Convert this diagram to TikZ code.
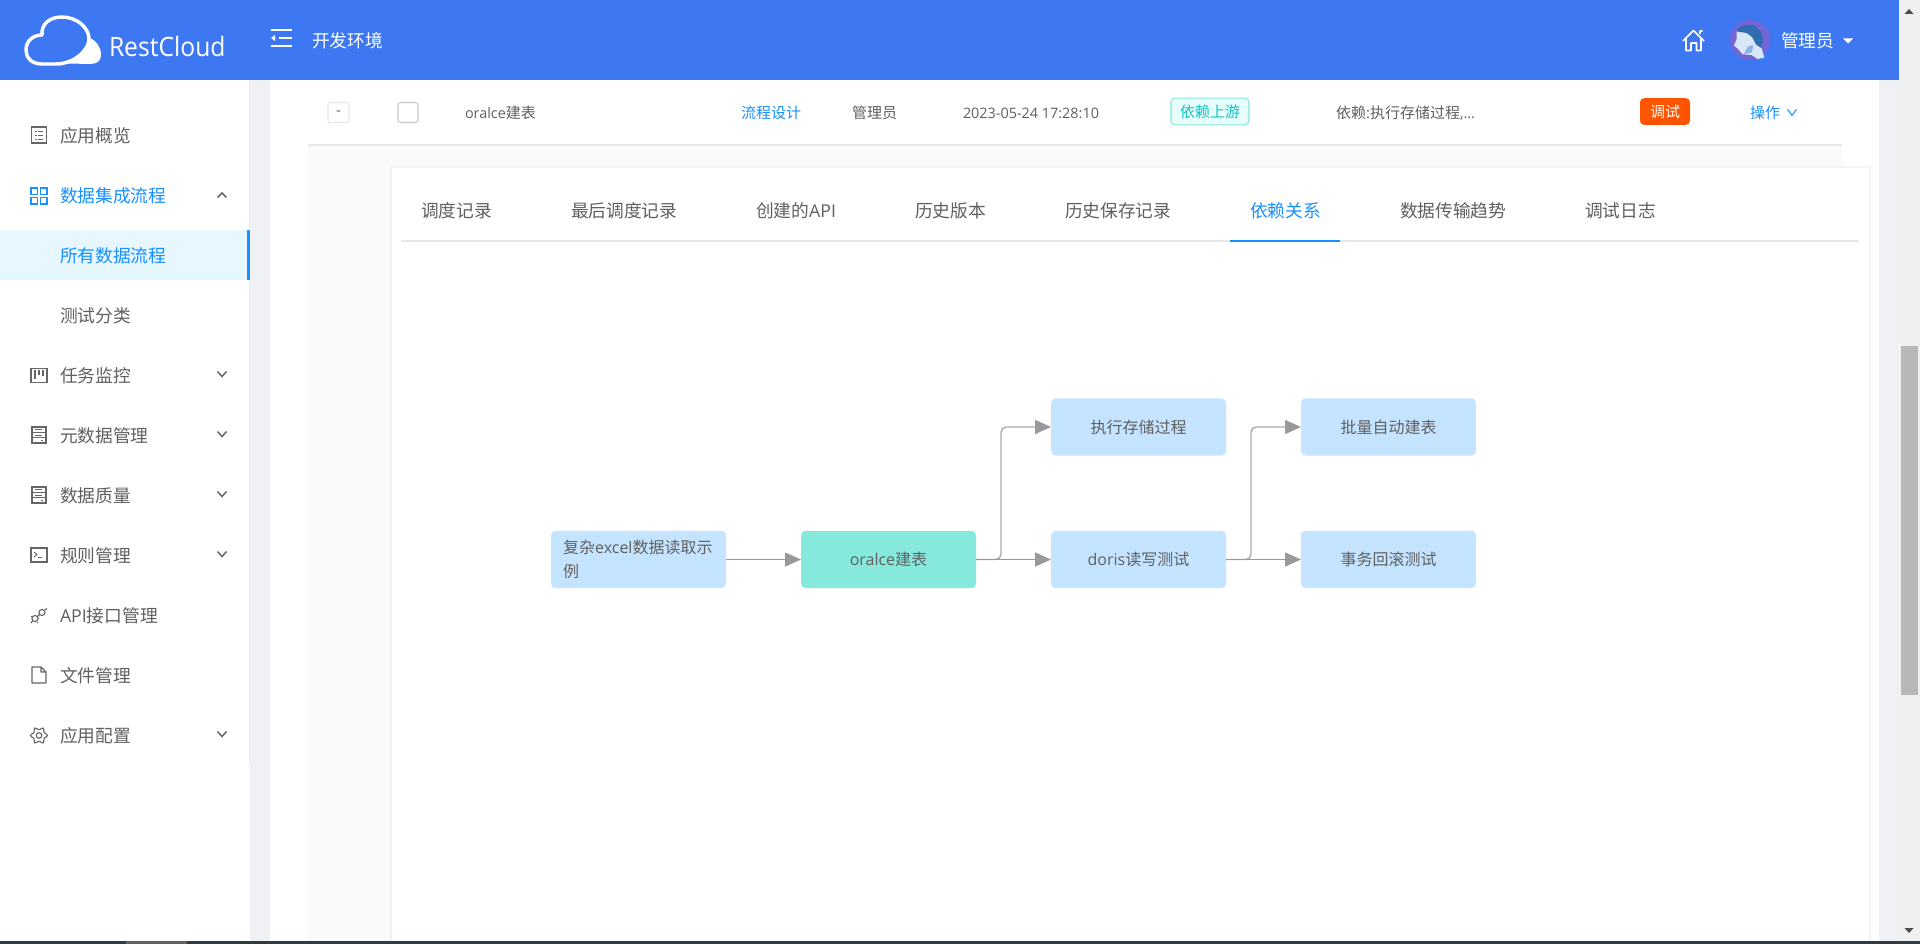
\documentclass[tikz,border=0pt]{standalone}
\usepackage{fontspec}
\setmainfont{Noto Sans CJK SC}
\newfontfamily\latf{Open Sans}
\usetikzlibrary{arrows.meta}
\newcommand{\lat}[1]{{\latf #1}}
\newcommand{\latsm}[1]{{\latf\fontsize{10.8}{14}\selectfont #1}}
\definecolor{hdr}{HTML}{3D78F2}
\definecolor{pagegray}{HTML}{EFF1F5}
\definecolor{panelgray}{HTML}{FAFAFA}
\definecolor{rule}{HTML}{E8E8E8}
\definecolor{txt}{HTML}{606060}
\definecolor{ablue}{HTML}{1890FF}
\definecolor{activebg}{HTML}{E6F7FF}
\definecolor{nodeblue}{HTML}{C5E4FF}
\definecolor{nodeteal}{HTML}{87E9DD}
\definecolor{edgegray}{HTML}{999999}
\definecolor{bendgray}{HTML}{ABABAB}
\definecolor{icon}{HTML}{666666}
\definecolor{stripdark}{HTML}{333B42}
\definecolor{striplight}{HTML}{5F6266}
\definecolor{tagtext}{HTML}{13C2C2}
\definecolor{tagfill}{HTML}{E6FFFB}
\definecolor{btnorange}{HTML}{FF5500}
\definecolor{avpurple}{HTML}{7466D6}
\definecolor{avhair}{HTML}{2F6CB0}
\definecolor{avface}{HTML}{D8E6F8}
\definecolor{avshade}{HTML}{8DB2E6}
\tikzset{
  every node/.style={inner sep=0pt,outer sep=0pt},
  side/.style={anchor=west,text=txt,font=\fontsize{13.3}{16}\selectfont},
  sideblue/.style={side,text=ablue},
  tabt/.style={anchor=west,text=txt,font=\fontsize{13.3}{16}\selectfont},
  cell/.style={anchor=west,text=txt,font=\fontsize{11.25}{14}\selectfont},
  hdrt/.style={anchor=west,text=white,font=\fontsize{13.3}{16}\selectfont},
  flowbox/.style={rectangle,rounded corners=3.5pt,fill=nodeblue,text=txt,minimum width=131.25pt,minimum height=43pt,font=\fontsize{12}{18}\selectfont},
  flowteal/.style={flowbox,fill=nodeteal},
  straight/.style={edgegray,line width=1.1pt,-{Triangle[length=12pt,width=10.5pt,fill=edgegray]}},
  bent/.style={bendgray,line width=1.1pt,rounded corners=4pt,-{Triangle[length=12pt,width=10.5pt,fill=edgegray,color=edgegray]}},
  ico/.style={icon,line width=.85pt},
  chev/.style={icon,line width=1.1pt},
  pics/down/.style={code={\draw[chev] (-4.5,-2.5)--(0,2.5)--(4.5,-2.5);}},
  pics/listicon/.style={code={\draw[ico] (-7.5,-8) rectangle (7.5,8);
     \foreach \y in {-4,0,4}{\draw[icon,line width=.7pt] (-4,\y)--(-2.5,\y) (-1,\y)--(4,\y);}}},
  pics/gridicon/.style={code={\foreach \x/\y in {-8/-8,1.5/-8,-8/1.5,1.5/1.5}{\draw[ablue,line width=1.1pt] (\x,\y) rectangle ++(6.5,6.5);}}},
  pics/boardicon/.style={code={\draw[ico] (-8,-7) rectangle (8,7);
     \draw[icon,line width=1.1pt] (-4,-5)--(-4,4) (0,-5)--(0,0) (4,-5)--(4,1);}},
  pics/servericon/.style={code={\draw[ico] (-7,-8) rectangle (7,8);
     \draw[icon,line width=.7pt] (-7,-3)--(7,-3) (-7,2.5)--(7,2.5) (-4,-5.5)--(3,-5.5) (-4,0)--(3,0) (2,5.5)--(4,5.5);}},
  pics/termicon/.style={code={\draw[ico] (-8,-7) rectangle (8,7);
     \draw[icon,line width=.7pt] (-5,-3)--(-2,-.5)--(-5,2) (-1,2.5)--(3,2.5);}},
  pics/apiicon/.style={code={
     \draw[ico] (-4,3.5) circle (3) (3,-2.5) circle (3);
     \draw[ico] (-6.5,6)--(-8,8) (5.5,-4.5)--(8,-6.5) (-1.5,1.5)--(.8,-.8);
     \draw[icon,line width=.7pt] (-7,1)--(-8,2) (-1,7)--(-2,8);}},
  pics/fileicon/.style={code={\draw[ico,line join=round] (-7,-8)--(2,-8)--(7,-3)--(7,8)--(-7,8)--cycle (2,-8)--(2,-3)--(7,-3);}},
  pics/gearicon/.style={code={
     \draw[ico,rounded corners=.9pt] (-13:6.2)
       \foreach \a in {0,60,120,180,240,300}{ -- (\a-13:6.2) -- (\a-9:8.6) -- (\a+9:8.6) -- (\a+13:6.2)} -- cycle;
     \draw[ico] (0,0) circle (2.8);}},
}
\begin{document}
\begin{tikzpicture}[x=0.75pt,y=-0.75pt]
\useasboundingbox (0,0) rectangle (1920,944);
% page surfaces
\fill[white] (0,0) rectangle (1920,944);
\fill[pagegray] (250,80) rectangle (270,941);
\fill[pagegray] (1879,80) rectangle (1899,941);
\fill[panelgray] (308,145) rectangle (1842,204);
\fill[panelgray] (308,145) rectangle (391,941);
\draw[rule,line width=.8pt] (308,145) -- (1842,145);
\draw[draw=rule!50,line width=.8pt,fill=white] (391,167) rectangle (1870,945);
\draw[rule,line width=.8pt] (401,241) -- (1859,241);
\draw[rule!80,line width=.8pt] (249.5,80) -- (249.5,765);
% scrollbar
\fill[black!6] (1899,0) rectangle (1920,941);
\fill[black!28] (1901,346) rectangle (1918,695);
\fill[icon!75!black] (1909,9) -- (1913.5,14) -- (1904.5,14) -- cycle;
\fill[icon!75!black] (1909,933) -- (1913.5,928) -- (1904.5,928) -- cycle;
% bottom strip
\fill[stripdark] (0,941) rectangle (1920,944);
\fill[striplight] (126,941) rectangle (187,944);
% header
\fill[hdr] (0,0) rectangle (1899,80);
% logo
\fill[white] (88,37) .. controls (97,41) and (101,47) .. (101,55) .. controls (101,61) and (97,64) .. (90,64) -- (68,63.5) .. controls (80,60) and (88,50) .. cycle;
\draw[white,line width=2.6pt,line join=round,fill=hdr] (42,64) .. controls (30,64) and (26,56) .. (26,50) .. controls (26,41) and (33,35) .. (42,35) .. controls (41,23) and (51,17) .. (62,17) .. controls (76,17) and (89,27) .. (89,39) .. controls (89,50) and (74,64) .. (56,64) -- cycle;
\node[anchor=west,text=white,font={\latf\fontsize{20}{24}\selectfont}] (brand) at (109,47) {\scalebox{.925}[1]{RestCloud}};
% collapse icon
\draw[white,line width=1.2pt] (271,30)--(292,30) (279,38)--(292,38) (271,46)--(292,46);
\fill[white] (271,38)--(275,35)--(275,41)--cycle;
\node[hdrt] (env) at (312,41) {开发环境};
% home
\draw[white,line width=1.2pt,line join=round] (1683,41)--(1693.5,30.5)--(1704,41) (1700,34)--(1700,31)--(1702.5,31)
  (1686,39)--(1686,50.5)--(1691,50.5)--(1691,43)--(1696.5,43)--(1696.5,50.5)--(1701,50.5)--(1701,39);
% avatar
\fill[avpurple] (1750,40) circle (20);
\begin{scope}[shift={(1720,15)},x=0.25pt,y=-0.25pt]
  \fill[avface] (50,50)--(90,50)--(108,88)--(125,100)--(133,128)--(112,132)--(95,120)--(68,118)--(52,100)--(42,92)--(50,72)--cycle;
  \fill[avshade] (72,118)--(95,112)--(100,90)--(84,95)--(75,110)--cycle;
  \fill[avhair] (50,42)--(70,30)--(100,30)--(122,48)--(130,75)--(122,98)--(108,88)--(96,66)--(80,54)--(55,50)--cycle;
\end{scope}
\node[hdrt] (admin) at (1781,41) {管理员};
\fill[white] (1843,38.5)--(1853,38.5)--(1848,43.5)--cycle;
% sidebar
\fill[activebg] (0,230) rectangle (250,280);
\fill[ablue] (247,230) rectangle (250,280);
\pic at (39,135) {listicon};
\pic at (39,196) {gridicon};
\pic at (39,375.5) {boardicon};
\pic at (39,435) {servericon};
\pic at (39,495) {servericon};
\pic at (39,555) {termicon};
\pic at (39,615) {apiicon};
\pic at (39,675) {fileicon};
\pic at (39,735.5) {gearicon};
\node[side] (s1) at (60,135.7) {应用概览};
\node[sideblue] (s2) at (60,196) {数据集成流程};
\node[sideblue] (s3) at (60,255.7) {所有数据流程};
\node[side] (s4) at (60,316) {测试分类};
\node[side] (s5) at (60,376) {任务监控};
\node[side] (s6) at (60,436) {元数据管理};
\node[side] (s7) at (60,496) {数据质量};
\node[side] (s8) at (60,555.7) {规则管理};
\node[side] (s9) at (60,616) {\lat{API}接口管理};
\node[side] (s10) at (60,676) {文件管理};
\node[side] (s11) at (60,736) {应用配置};
\draw[chev] (217.5,197.5)--(222,193)--(226.5,197.5);
\pic at (222,374) {down};
\pic at (222,434) {down};
\pic at (222,494) {down};
\pic at (222,554) {down};
\pic at (222,734) {down};
% table row
\draw[rule,line width=.8pt,rounded corners=1.5pt] (328,102.5) rectangle (349,122.5);
\node[cell] (minus) at (336,113) {\lat{-}};
\draw[black!22,line width=.8pt,rounded corners=2pt,fill=white] (398,102.5) rectangle (418,122.5);
\node[cell] (c1) at (465,113) {\latsm{oralce}建表};
\node[cell,text=ablue] (c2) at (741,112.5) {流程设计};
\node[cell] (c3) at (852,112.5) {管理员};
\node[cell] (c4) at (963,113) {\latsm{2023-05-24 17:28:10}};
\node[rectangle,rounded corners=3pt,draw=nodeteal,line width=.8pt,fill=tagfill,text=tagtext,minimum width=58.5pt,minimum height=20pt,font=\fontsize{11.25}{14}\selectfont] (tag) at (1210,111.5) {依赖上游};
\node[cell] (c5) at (1336,113) {依赖\lat{:}执行存储过程\latsm{,...}};
\node[rectangle,rounded corners=3pt,fill=btnorange,text=white,minimum width=37.5pt,minimum height=20pt,font=\fontsize{11.25}{14}\selectfont] (btn) at (1665,111.5) {调试};
\node[cell,text=ablue] (c6) at (1750,112.5) {操作};
\draw[ablue,line width=.8pt] (1787.5,109.5)--(1792,115.5)--(1796.5,109.5);
% tabs
\node[tabt] (t1) at (421,211) {调度记录};
\node[tabt] (t2) at (571,211) {最后调度记录};
\node[tabt] (t3) at (756,211) {创建的\lat{API}};
\node[tabt] (t4) at (915,211) {历史版本};
\node[tabt] (t5) at (1065,211) {历史保存记录};
\node[tabt,text=ablue] (t6) at (1250,211) {依赖关系};
\node[tabt] (t7) at (1400,211) {数据传输趋势};
\node[tabt] (t8) at (1585,211) {调试日志};
\fill[ablue] (1230,240) rectangle (1340,242);
% flow
\node[flowbox,align=left,text width=113pt] (n1) at (638.5,559.5) {复杂\lat{excel}数据读取示\\例};
\node[flowteal] (n2) at (888.5,559.5) {\lat{oralce}建表};
\node[flowbox] (n3) at (1138.5,427) {执行存储过程};
\node[flowbox] (n4) at (1138.5,559.5) {\lat{doris}读写测试};
\node[flowbox] (n5) at (1388.5,427) {批量自动建表};
\node[flowbox] (n6) at (1388.5,559.5) {事务回滚测试};
\coordinate (b1a) at (1001,559.5);
\coordinate (b1b) at (1001,427);
\coordinate (b2a) at (1251,559.5);
\coordinate (b2b) at (1251,427);
\draw[straight] (n1.east) -- (n2.west);
\draw[bent] (n2.east) -- (b1a) -- (b1b) -- (n3.west);
\draw[straight] (n2.east) -- (n4.west);
\draw[bent] (n4.east) -- (b2a) -- (b2b) -- (n5.west);
\draw[straight] (n4.east) -- (n6.west);
\end{tikzpicture}
\end{document}
